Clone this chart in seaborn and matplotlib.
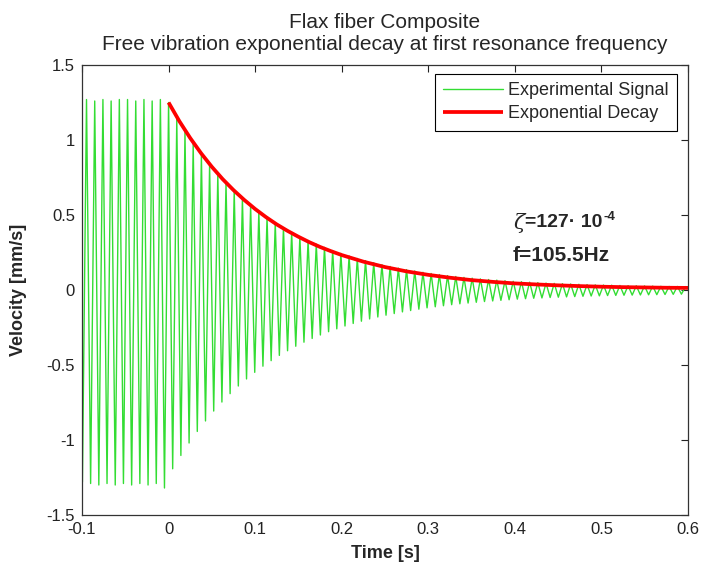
import numpy as np
import pandas as pd
import matplotlib
matplotlib.use("Agg")
import matplotlib.pyplot as plt
import seaborn as sns

# ---------------- data ----------------
freq_hz = 105.5                      # first resonance frequency
zeta_text = "127"                    # damping ratio x 1e-4

# positive peaks of the experimental signal, one per cycle (cycles k = -10 .. 63)
pos_peaks = [
    1.27, 1.26, 1.27, 1.26, 1.27, 1.27, 1.26, 1.27, 1.26, 1.27,          # before t = 0
    1.25, 1.142, 1.055, 0.976, 0.902, 0.834, 0.772, 0.714, 0.660, 0.611,
    0.565, 0.523, 0.484, 0.448, 0.415, 0.385, 0.356, 0.330, 0.306, 0.284,
    0.263, 0.244, 0.227, 0.210, 0.196, 0.182, 0.169, 0.157, 0.146, 0.136,
    0.127, 0.118, 0.110, 0.103, 0.096, 0.090, 0.084, 0.079, 0.074, 0.070,
    0.066, 0.062, 0.058, 0.055, 0.052, 0.049, 0.046, 0.044, 0.042, 0.040,
    0.038, 0.036, 0.034, 0.033, 0.032, 0.030, 0.029, 0.028, 0.027, 0.026,
    0.025, 0.024, 0.024, 0.023,
]
# negative troughs, one per cycle (half cycles k = -10.5 .. 62.5)
neg_troughs = [
    -1.28, -1.29, -1.30, -1.29, -1.30, -1.29, -1.30, -1.29, -1.30, -1.29, -1.32,
    -1.192, -1.103, -1.020, -0.943, -0.873, -0.807, -0.747, -0.691, -0.640, -0.593,
    -0.549, -0.508, -0.471, -0.436, -0.405, -0.375, -0.348, -0.323, -0.300, -0.278,
    -0.259, -0.240, -0.223, -0.208, -0.193, -0.180, -0.168, -0.157, -0.146, -0.137,
    -0.128, -0.119, -0.112, -0.105, -0.098, -0.092, -0.087, -0.082, -0.077, -0.073,
    -0.069, -0.065, -0.061, -0.058, -0.055, -0.053, -0.050, -0.048, -0.046, -0.044,
    -0.042, -0.040, -0.039, -0.037, -0.036, -0.035, -0.034, -0.033, -0.032, -0.031,
    -0.030, -0.029, -0.028,
]

# exponential decay envelope (red)
decay_t = [0.0000, 0.0125, 0.0250, 0.0375, 0.0500, 0.0625, 0.0750, 0.0875,
           0.1000, 0.1125, 0.1250, 0.1375, 0.1500, 0.1625, 0.1750, 0.1875,
           0.200, 0.225, 0.250, 0.275, 0.300, 0.325, 0.350, 0.375, 0.400,
           0.425, 0.450, 0.475, 0.500, 0.525, 0.550, 0.575, 0.600]
decay_v = [1.250, 1.125, 1.013, 0.912, 0.821, 0.739, 0.666, 0.600,
           0.540, 0.486, 0.437, 0.394, 0.355, 0.319, 0.287, 0.259,
           0.233, 0.189, 0.153, 0.124, 0.101, 0.082, 0.066, 0.054, 0.044,
           0.037, 0.031, 0.026, 0.022, 0.019, 0.017, 0.015, 0.014]

x_ticks = [-0.1, 0, 0.1, 0.2, 0.3, 0.4, 0.5, 0.6]
x_tick_labels = ["-0.1", "0", "0.1", "0.2", "0.3", "0.4", "0.5", "0.6"]
y_ticks = [-1.5, -1, -0.5, 0, 0.5, 1, 1.5]
y_tick_labels = ["-1.5", "-1", "-0.5", "0", "0.5", "1", "1.5"]

# ---------------- build tables ----------------
peak_times = np.arange(-10, 64) / freq_hz
trough_times = np.arange(-10.5, 63) / freq_hz
sig_t = np.empty(len(peak_times) + len(trough_times))
sig_v = np.empty_like(sig_t)
sig_t[0::2] = trough_times
sig_t[1::2] = peak_times
sig_v[0::2] = neg_troughs
sig_v[1::2] = pos_peaks
signal_df = pd.DataFrame({"Time": sig_t, "Velocity": sig_v})
decay_df = pd.DataFrame({"Time": decay_t, "Velocity": decay_v})

# ---------------- plot ----------------
sns.set_style("white")
plt.rcParams["font.family"] = ["Liberation Sans", "DejaVu Sans"]

fig = plt.figure(figsize=(7.03, 5.72), dpi=100)
ax = fig.add_axes([82 / 703, 1 - 515 / 572, 606 / 703, 450 / 572])

sns.lineplot(data=signal_df, x="Time", y="Velocity", ax=ax, color="#33dd33",
             linewidth=1.0, estimator=None, sort=False, label="Experimental Signal")
sns.lineplot(data=decay_df, x="Time", y="Velocity", ax=ax, color="#ff0000",
             linewidth=2.7, estimator=None, sort=False, label="Exponential Decay",
             solid_joinstyle="round", solid_capstyle="butt")

ax.set_xlim(-0.1, 0.6)
ax.set_ylim(-1.5, 1.5)
ax.set_xticks(x_ticks)
ax.set_xticklabels(x_tick_labels)
ax.set_yticks(y_ticks)
ax.set_yticklabels(y_tick_labels)
ax.tick_params(direction="in", length=5, width=0.8, top=True, right=True,
               labelsize=12, colors="#222222", pad=5)
for sp in ax.spines.values():
    sp.set_visible(True)
    sp.set_color("#333333")
    sp.set_linewidth(0.9)

ax.set_xlabel("Time [s]", fontsize=13, fontweight="bold", labelpad=6)
ax.set_ylabel("Velocity [mm/s]", fontsize=13, fontweight="bold", labelpad=14)

fig.text(385 / 703, 1 - 22 / 572, "Flax fiber Composite", ha="center",
         va="center", fontsize=15)
fig.text(385 / 703, 1 - 45 / 572,
         "Free vibration exponential decay at first resonance frequency",
         ha="center", va="center", fontsize=15)

leg = ax.legend(loc="upper right", bbox_to_anchor=(0.982, 0.98), fontsize=13,
                frameon=True, fancybox=False, framealpha=1, edgecolor="black",
                handlelength=3.3, handletextpad=0.3, borderpad=0.45,
                labelspacing=0.35, borderaxespad=0)
leg.get_frame().set_linewidth(0.8)

# annotations
zx, zy = 0.399, 0.447
ax.annotate("ζ", xy=(zx, zy), xycoords="data", fontsize=15,
            family=["DejaVu Serif"], style="italic", ha="left", va="center")
main = ax.annotate("=" + zeta_text + "· 10", xy=(zx, zy), xycoords="data",
                   xytext=(8, 0), textcoords="offset points", fontsize=14,
                   fontweight="bold", ha="left", va="center")
ax.annotate("-4", xy=(1, 1), xycoords=main, xytext=(1, -2),
            textcoords="offset points", fontsize=9.5, fontweight="bold",
            ha="left", va="center")
ax.annotate(f"f={freq_hz}Hz", xy=(0.397, 0.233), xycoords="data", fontsize=15,
            fontweight="bold", ha="left", va="center")

fig.savefig("out.png", dpi=100)
